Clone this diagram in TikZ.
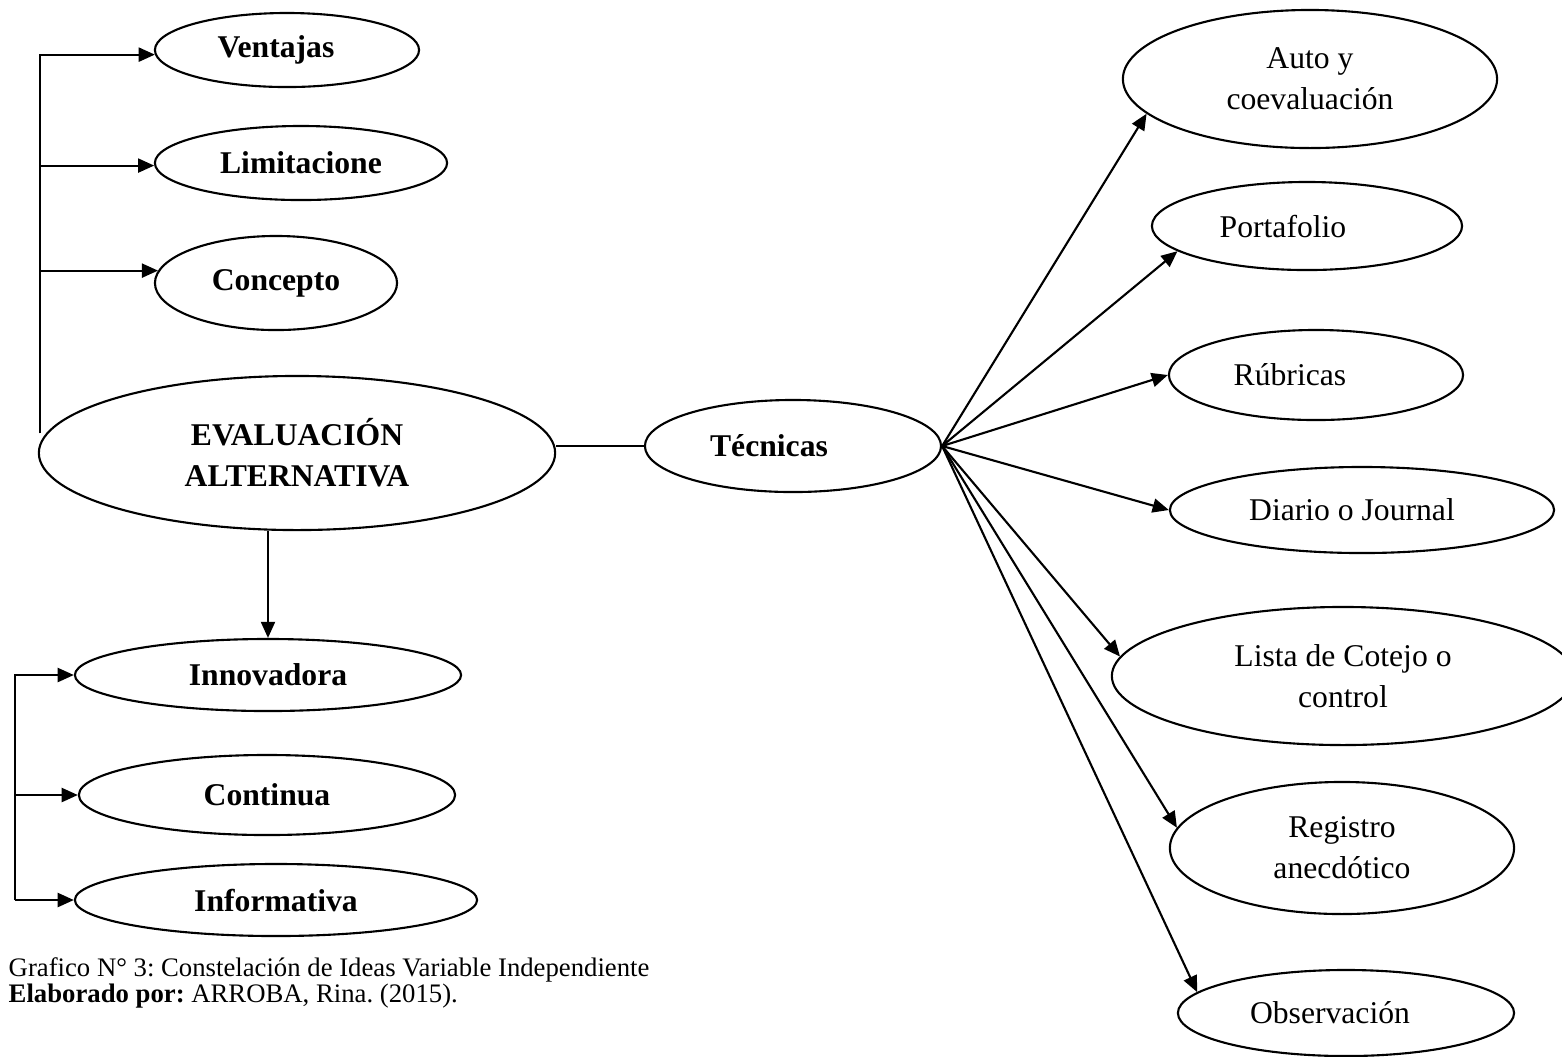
\documentclass[tikz,border=0pt]{standalone}
\usepackage{fontspec}
\setmainfont{Liberation Serif}
\usetikzlibrary{shapes.geometric,arrows.meta}
\newcommand\efont{\fontsize{9pt}{11.7pt}\selectfont}
\tikzset{
  ell/.style={draw, ellipse, line width=0.6pt, inner sep=0pt, font=\efont},
  bl/.style={font=\efont\bfseries},
  arr/.style={-{Triangle[length=4.6pt,width=4pt]}, line width=0.6pt},
  ln/.style={line width=0.6pt},
}
\begin{document}
\frenchspacing
\begin{tikzpicture}[x=0.01cm,y=-0.01cm]
\useasboundingbox (0,0) rectangle (1562,1056);
% left column
\node[ell,bl,minimum width=2.64cm,minimum height=0.74cm] (ventajas) at (287,50) {Ventajas\hspace*{0.22cm}};
\node[ell,bl,minimum width=2.92cm,minimum height=0.74cm] (limit) at (301,163) {Limitacione};
\node[ell,bl,minimum width=2.42cm,minimum height=0.94cm] (concepto) at (276,283) {Concepto};
\node[ell,bl,align=center,minimum width=5.16cm,minimum height=1.54cm] (eval) at (297,453) {EVALUACIÓN\\ALTERNATIVA};
\node[ell,bl,minimum width=3.86cm,minimum height=0.72cm] (innov) at (268,675) {Innovadora};
\node[ell,bl,minimum width=3.76cm,minimum height=0.80cm] (contin) at (267,795) {Continua};
\node[ell,bl,minimum width=4.02cm,minimum height=0.72cm] (inform) at (276,900) {Informativa};
% middle
\node[ell,bl,minimum width=2.96cm,minimum height=0.92cm] (tec) at (793,446) {Técnicas\hspace*{0.48cm}};
% right column
\node[ell,align=center,minimum width=3.74cm,minimum height=1.38cm] (auto) at (1310,79) {Auto y\\coevaluación};
\node[ell,minimum width=3.10cm,minimum height=0.88cm] (porta) at (1307,226) {Portafolio\hspace*{0.48cm}};
\node[ell,minimum width=2.94cm,minimum height=0.90cm] (rub) at (1316,375) {Rúbricas\hspace*{0.52cm}};
\node[ell,minimum width=3.84cm,minimum height=0.86cm] (diario) at (1362,510) {Diario o Journal\hspace*{0.2cm}};
\node[ell,align=center,minimum width=4.62cm,minimum height=1.38cm] (lista) at (1343,676) {Lista de Cotejo o\\control};
\node[ell,align=center,minimum width=3.44cm,minimum height=1.32cm] (regis) at (1342,848) {Registro\\anecdótico};
\node[ell,minimum width=3.36cm,minimum height=0.86cm] (obs) at (1346,1013) {Observación\hspace*{0.32cm}};
% caption
\node[anchor=west,inner sep=0pt,align=left,font=\fontsize{7.6pt}{7.6pt}\selectfont] (cap) at (8,983)
  {Grafico N° 3: Constelación de Ideas Variable Independiente\\\textbf{Elaborado por:} ARROBA, Rina. (2015).};
% left bracket
\coordinate (lb) at (40,433);
\draw[arr] (lb) |- (ventajas.182);
\draw[arr] (lb) |- (limit.181);
\draw[arr] (lb) |- (concepto.174);
% lower bracket
\coordinate (lb2) at (15,900);
\draw[arr] (lb2) |- (innov.west);
\draw[arr] (lb2) |- (contin.west);
\draw[arr] (lb2) -- (inform.west);
% down arrow
\draw[arr] (innov.north |- eval.south) -- (innov.north);
% eval to tecnicas
\draw[ln] (eval.east |- tec.west) -- (tec.west);
% fan
\draw[arr] (tec.east) -- (auto.192.5);
\draw[arr] (tec.east) -- (porta.191);
\draw[arr] (tec.east) -- (rub.west);
\draw[arr] (tec.east) -- (diario.west);
\draw[arr] (tec.east) -- (lista.175);
\draw[arr] (tec.east) -- (regis.173);
\draw[arr] (tec.east) -- (obs.172);
\end{tikzpicture}
\end{document}
